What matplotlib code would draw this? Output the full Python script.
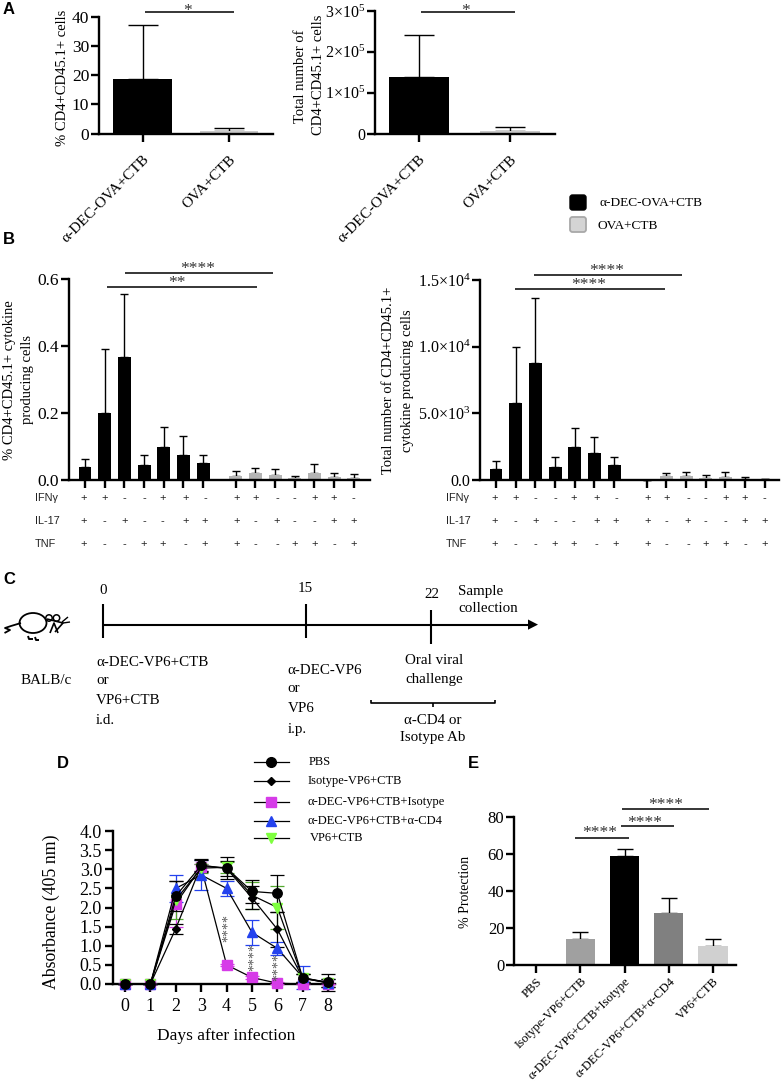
#!/usr/bin/env python3
"""Multi-panel figure: T cell responses and protection after rotavirus challenge."""

import matplotlib

matplotlib.use("Agg")
import matplotlib.pyplot as plt
import numpy as np
from matplotlib.patches import Circle, Ellipse, FancyBboxPatch

W, H = 781, 1085
SERIF = "Liberation Serif"
SANS = "Liberation Sans"

plt.rcParams["font.family"] = [SERIF, "DejaVu Serif"]
plt.rcParams["mathtext.fontset"] = "custom"
plt.rcParams["mathtext.rm"] = SERIF
plt.rcParams["mathtext.default"] = "rm"

# panel A
a_groups = ["α-DEC-OVA+CTB", "OVA+CTB"]
a_pct = [18.7, 1.0]
a_pct_top = [37.0, 1.8]
a_num = [1.38e5, 5000]
a_num_top = [2.41e5, 1.6e4]
a_colors = ["black", "#c8c8c8"]

# panel B
b_pct_dec = [0.04, 0.2, 0.366, 0.044, 0.1, 0.074, 0.052]
b_pct_dec_top = [0.062, 0.392, 0.554, 0.076, 0.158, 0.13, 0.076]
b_pct_ova = [0.012, 0.022, 0.015, 0.006, 0.02, 0.008, 0.006]
b_pct_ova_top = [0.028, 0.036, 0.034, 0.012, 0.048, 0.022, 0.019]
b_num_dec = [850, 5800, 8775, 975, 2500, 2050, 1150]
b_num_dec_top = [1400, 10000, 13650, 1700, 3900, 3200, 1725]
b_num_ova = [0, 300, 300, 150, 250, 100, 50]
b_num_ova_top = [0, 550, 600, 400, 625, 200, 100]
ifng_row = ["+", "+", "-", "-", "+", "+", "-"]
il17_row = ["+", "-", "+", "-", "-", "+", "+"]
tnf_row = ["+", "-", "-", "+", "+", "-", "+"]

# panel D
days = [0, 1, 2, 3, 4, 5, 6, 7, 8]
d_pbs = [0, 0, 2.3, 3.1, 3.03, 2.42, 2.37, 0.15, 0.05]
d_pbs_err = [0, 0, 0.4, 0.18, 0.28, 0.3, 0.48, 0.1, 0.22]
d_iso = [0, 0, 1.45, 3.1, 3.02, 2.25, 1.43, 0.15, 0.03]
d_iso_err = [0, 0, 0.13, 0.15, 0.2, 0.3, 0.45, 0.1, 0.1]
d_dec = [0, 0, 2.1, 3.05, 0.5, 0.17, 0.02, 0, 0]
d_dec_err = [0, 0, 0.6, 0.1, 0.03, 0.03, 0.02, 0, 0]
d_cd4 = [0, 0, 2.5, 2.85, 2.5, 1.35, 0.93, 0.17, 0.03]
d_cd4_err = [0, 0, 0.35, 0.4, 0.2, 0.32, 0.17, 0.3, 0.1]
d_vp6 = [0, 0, 2.2, 3.03, 3.05, 2.32, 2.0, 0.15, 0.03]
d_vp6_err = [0, 0, 0.5, 0.12, 0.15, 0.35, 0.55, 0.1, 0.1]
d_names = ["PBS", "Isotype-VP6+CTB", "α-DEC-VP6+CTB+Isotype", "α-DEC-VP6+CTB+α-CD4", "VP6+CTB"]

# panel E
e_groups = ["PBS", "Isotype-VP6+CTB", "α-DEC-VP6+CTB+Isotype", "α-DEC-VP6+CTB+α-CD4", "VP6+CTB"]
e_vals = [0, 14.2, 58.7, 28.3, 10.5]
e_tops = [0, 17.6, 62.6, 36.0, 14.2]
e_colors = ["#a0a0a0", "#a0a0a0", "black", "#808080", "#d0d0d0"]

fig = plt.figure(figsize=(W / 100, H / 100), dpi=100)


def panel_axes(x_left, x_right, y_top, y_bottom, ymax, first_tick, spacing):
    """Axes placed by pixel box; x unit is one tick spacing."""
    ax = fig.add_axes([x_left / W, 1 - y_bottom / H, (x_right - x_left) / W, (y_bottom - y_top) / H])
    ax.patch.set_alpha(0)
    ax.set_ylim(0, ymax)
    ax.set_xlim((x_left - first_tick) / spacing, (x_right - first_tick) / spacing)
    for side in ["top", "right"]:
        ax.spines[side].set_visible(False)
    for side in ["left", "bottom"]:
        ax.spines[side].set_linewidth(1.7)
    ax.tick_params(width=1.7, length=6)
    return ax


def upper_errors(ax, x, vals, tops, capsize, lw=1.0):
    yerr = np.array(tops, dtype=float) - np.array(vals, dtype=float)
    ax.errorbar(x, vals, yerr=[np.zeros(len(vals)), yerr], fmt="none", ecolor="black",
                elinewidth=lw, capsize=capsize, capthick=lw, clip_on=False, zorder=1)


def rotated_labels(ax, ticks, labels, size, pad):
    ax.set_xticks(ticks)
    ax.set_xticklabels(labels, rotation=45, ha="right", va="top", rotation_mode="anchor", fontsize=size)
    ax.tick_params(axis="x", pad=pad)


# panel A, percent
ax = panel_axes(99, 273, 16.7, 133.5, 40, 142.5, 86.5)
ax.bar([0, 1], a_pct, width=0.68, color=a_colors, zorder=2)
upper_errors(ax, [0, 1], a_pct, a_pct_top, 10.5)
ax.set_yticks([0, 10, 20, 30, 40])
ax.tick_params(axis="y", labelsize=12.5, pad=1)
rotated_labels(ax, [0, 1], a_groups, 11, 8)

# panel A, counts
ax = panel_axes(375, 555, 11, 133.5, 3e5, 419, 91)
ax.bar([0, 1], a_num, width=0.66, color=a_colors, zorder=2)
upper_errors(ax, [0, 1], a_num, a_num_top, 10.5)
ax.set_yticks([0, 1e5, 2e5, 3e5])
ax.set_yticklabels(["0", "1×10$^{5}$", "2×10$^{5}$", "3×10$^{5}$"])
ax.tick_params(axis="y", labelsize=11.5, pad=1)
rotated_labels(ax, [0, 1], a_groups, 11, 8)

# panel B, percent and counts
xb = np.r_[np.arange(7), np.arange(7) + 7.66]
ax = panel_axes(69, 370, 279, 480, 0.6, 85, 19.67)
ax.bar(xb[:7], b_pct_dec, width=0.66, color="black", zorder=2)
ax.bar(xb[7:], b_pct_ova, width=0.66, color="#b4b4b4", zorder=2)
upper_errors(ax, xb[:7], b_pct_dec, b_pct_dec_top, 3)
upper_errors(ax, xb[7:], b_pct_ova, b_pct_ova_top, 3)
ax.set_xticks(xb)
ax.set_xticklabels([])
ax.set_yticks([0, 0.2, 0.4, 0.6])
ax.set_yticklabels(["0.0", "0.2", "0.4", "0.6"])
ax.tick_params(axis="y", labelsize=12.5, pad=1)

ax = panel_axes(480, 779, 280, 480, 1.5e4, 496, 19.67)
ax.bar(xb[:7], b_num_dec, width=0.66, color="black", zorder=2)
ax.bar(xb[7:], b_num_ova, width=0.66, color="#b4b4b4", zorder=2)
upper_errors(ax, xb[:7], b_num_dec, b_num_dec_top, 3)
upper_errors(ax, xb[7:], b_num_ova, b_num_ova_top, 3)
ax.set_xticks(xb)
ax.set_xticklabels([])
ax.set_yticks([0, 5e3, 1e4, 1.5e4])
ax.set_yticklabels(["0.0", "5.0×10$^{3}$", "1.0×10$^{4}$", "1.5×10$^{4}$"])
ax.tick_params(axis="y", labelsize=11.5, pad=1)

# panel D
ax = panel_axes(113, 335, 831, 984, 4, 125, 25.4)
d_series = [
    (d_dec, d_dec_err, "s", "#d63be8", "#d63be8", 6.5),
    (d_cd4, d_cd4_err, "^", "#2442ee", "#2442ee", 6.5),
    (d_vp6, d_vp6_err, "v", "#7fff3f", "#55aa30", 6.5),
    (d_iso, d_iso_err, "D", "black", "black", 4.5),
    (d_pbs, d_pbs_err, "o", "black", "black", 6.8),
]
for vals, errs, marker, face, ecol, size in d_series:
    ax.errorbar(days, vals, yerr=errs, fmt="none", ecolor=ecol, elinewidth=0.9, capsize=5,
                capthick=0.9, clip_on=False, zorder=3)
    ax.plot(days, vals, color="black", lw=0.9, marker=marker, markerfacecolor=face, markeredgecolor=face,
            markersize=size, clip_on=False, zorder=4)
ax.set_xticks(days)
ax.set_yticks(np.arange(0, 4.5, 0.5))
ax.tick_params(labelsize=13, pad=2)
ax.tick_params(axis="x", pad=4)
ax.set_xlabel("Days after infection", fontsize=12.5, labelpad=8)
ax.xaxis.set_label_coords((226 - 113) / 222, -0.285)
ax.set_ylabel("Absorbance (405 nm)", fontsize=12.8)
ax.yaxis.set_label_coords((60 - 113) / 222, 0.47)

# panel E
ax = panel_axes(514, 736, 816.7, 965, 80, 536, 44.25)
ax.bar(range(5), e_vals, width=0.66, color=e_colors, zorder=2)
upper_errors(ax, range(1, 5), e_vals[1:], e_tops[1:], 5.8)
ax.set_yticks([0, 20, 40, 60, 80])
ax.tick_params(axis="y", labelsize=12, pad=1)
rotated_labels(ax, range(5), e_groups, 9.1, 1.5)
ax.set_ylabel("% Protection", fontsize=10)
ax.yaxis.set_label_coords((472 - 514) / 222, 0.49)

# pixel overlay for annotations and the schedule in panel C
ov = fig.add_axes([0, 0, 1, 1], zorder=10)
ov.set_xlim(0, W)
ov.set_ylim(H, 0)
ov.axis("off")


def label(x, y, s, size=10.8, ha="left", va="center", **kw):
    ov.text(x, y, s, fontsize=size, ha=ha, va=va, **kw)


def seg(xs, ys, lw=1.1, color="black"):
    ov.plot(xs, ys, color=color, lw=lw, solid_capstyle="butt")


def sig(x0, x1, y, stars, sx, sy):
    seg([x0, x1], [y, y])
    # the asterisk sits high in its line, so the text box goes lower than the star
    ov.text(sx, sy + 2.5, stars, fontsize=12.5, ha="center", va="center", color="#333333")


for s, x, y in [("A", 9, 10), ("B", 9, 240), ("C", 9, 579), ("D", 63, 763), ("E", 473, 764)]:
    ov.text(x, y, s, fontsize=12, fontweight="bold", family=SANS, ha="center", va="center")

# y titles of A and B
label(63, 78, "% CD4+CD45.1+ cells", 10.5, "center", rotation=90)
label(301, 76, "Total number of", 10.5, "center", rotation=90)
label(318, 75, "CD4+CD45.1+ cells", 10.5, "center", rotation=90)
label(10, 380, "% CD4+CD45.1+ cytokine", 10.5, "center", rotation=90)
label(28, 380, "producing cells", 10.5, "center", rotation=90)
label(389, 380, "Total number of CD4+CD45.1+", 10.5, "center", rotation=90)
label(408, 381, "cytokine producing cells", 10.5, "center", rotation=90)

sig(145, 234, 12, "*", 188, 8)
sig(421, 515, 12, "*", 466, 8)
sig(125, 273, 273, "****", 198, 266)
sig(107, 257, 287, "**", 177, 281)
sig(534, 682, 275, "****", 607, 269)
sig(515, 665, 289, "****", 589, 283)
sig(575, 629, 838, "****", 600, 831)
sig(621, 674, 826, "****", 645, 820)
sig(622, 709, 809, "****", 666, 803)

# group key next to panel B
ov.add_patch(FancyBboxPatch((570, 195), 16, 15, boxstyle="round,pad=0,rounding_size=2.5",
                            fc="black", ec="black", lw=1))
ov.add_patch(FancyBboxPatch((570, 217), 16, 15, boxstyle="round,pad=0,rounding_size=2.5",
                            fc="#d4d4d4", ec="#a8a8a8", lw=1.3))
label(600, 203, "α-DEC-OVA+CTB", 9.6)
label(597, 226, "OVA+CTB", 9.6)

# cytokine rows under panel B
rows = [("IFNγ", 498, ifng_row), ("IL-17", 521, il17_row), ("TNF", 544, tnf_row)]
sym_shift = [-1, 0, 0, 0, -1, 2, 2, 1, 0, 2, 0, 0, 0, 0]
for left, first in [(35, 85), (446, 496)]:
    for name, y, row in rows:
        ov.text(left, y, name, fontsize=7.8, family=SANS, va="center", color="#222222")
        for i in range(14):
            ov.text(first + xb[i] * 19.67 + sym_shift[i], y, row[i % 7], fontsize=8, family=SANS,
                    ha="center", va="center", color="#222222")

# schedule in panel C
seg([103, 530], [624.6, 624.6], 1.5)
ov.fill([528, 538, 528], [619.5, 624.6, 629.7], color="black", lw=0)
seg([103, 103], [604, 638], 1.5)
seg([306, 306], [604, 638], 1.5)
seg([431, 431], [610, 644], 1.5)
label(103, 590, "0", ha="center")
label(305, 588, "15", ha="center")
label(432, 595, "22", ha="center")
label(458, 591, "Sample")
label(458, 609, "collection")
for y, s in zip([662, 680, 700, 720], ["α-DEC-VP6+CTB", "or", "VP6+CTB", "i.d."]):
    label(96, y, s)
for y, s in zip([671, 689, 709, 729], ["α-DEC-VP6", "or", "VP6", "i.p."]):
    label(287.5, y, s)
label(434, 661, "Oral viral", ha="center")
label(434, 679, "challenge", ha="center")
seg([371, 371, 495, 495], [700, 703, 703, 700], 1.2)
seg([433, 433], [703, 707], 1.2)
label(433, 720, "α-CD4 or", ha="center")
label(433, 738, "Isotype Ab", ha="center")
label(46, 680, "BALB/c", ha="center")

# mouse sketch
ov.add_patch(Ellipse((33, 623), 27, 20, fc="none", ec="black", lw=1.3))
ov.add_patch(Circle((49, 618), 3.2, fc="white", ec="black", lw=1.1))
ov.add_patch(Circle((56.5, 618), 3.2, fc="white", ec="black", lw=1.1))
seg([21, 11, 5, 10, 4.5], [623, 626, 628, 630, 633], 1.3)
seg([47, 63, 55], [619, 623, 632], 1.2)
seg([50, 54, 58], [633, 623, 633], 1.2)
seg([62, 68], [622, 617], 1)
seg([63, 70], [623, 622], 1)
seg([28, 29, 33], [636, 639, 639], 1.4)
seg([35, 36, 39], [637, 640, 640], 1.4)

# line key of panel D
d_key = [("o", "black", 7, 309), ("D", "black", 4.5, 308), ("s", "#d63be8", 7, 307),
         ("^", "#2442ee", 7, 307), ("v", "#7fff3f", 7, 310)]
for (marker, face, size, tx), y, name in zip(d_key, [762, 781, 802, 821, 838], d_names):
    ov.plot([254, 271, 289], [y, y, y], color="black", lw=0.9)
    ov.plot([271], [y], marker=marker, color=face, markersize=size)
    label(tx, y, name, 9)

# day-wise stars of panel D
for x, y in [(228, 928), (254, 957), (278, 967)]:
    ov.text(x, y, "****", fontsize=10, rotation=90, ha="center", va="center", color="#555555")

fig.savefig("out.png", dpi=100)
